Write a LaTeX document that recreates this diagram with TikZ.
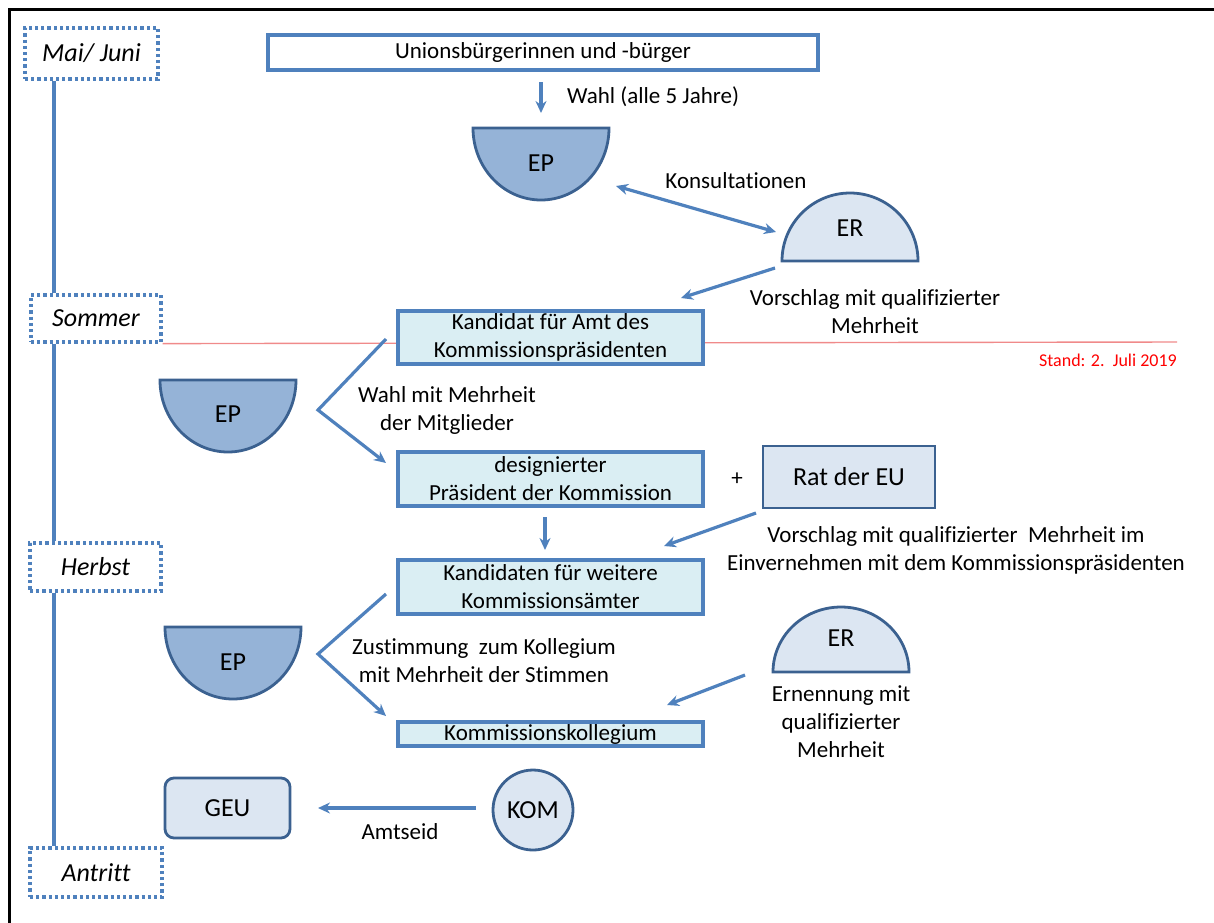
\documentclass[tikz,border=0pt]{standalone}
\usepackage{fontspec}
\setmainfont[Ligatures=NoCommon]{Carlito}
\usetikzlibrary{arrows.meta}
\definecolor{acc}{HTML}{4F81BD}
\definecolor{cyanfill}{HTML}{DAEEF3}
\definecolor{lightfill}{HTML}{DCE6F2}
\definecolor{epfill}{HTML}{95B3D7}
\definecolor{darkb}{HTML}{3B6190}
\definecolor{redline}{HTML}{F08A8A}
\newcommand\semidown[5]{\path[#1] ({#2-#4},#3) -- ({#2+#4},#3) .. controls ({#2+#4},{#3+0.5523*#5}) and ({#2+0.5523*#4},{#3+#5}) .. (#2,{#3+#5}) .. controls ({#2-0.5523*#4},{#3+#5}) and ({#2-#4},{#3+0.5523*#5}) .. ({#2-#4},#3) -- cycle;}
\newcommand\semiup[5]{\path[#1] ({#2-#4},#3) -- ({#2+#4},#3) .. controls ({#2+#4},{#3-0.5523*#5}) and ({#2+0.5523*#4},{#3-#5}) .. (#2,{#3-#5}) .. controls ({#2-0.5523*#4},{#3-#5}) and ({#2-#4},{#3-0.5523*#5}) .. ({#2-#4},#3) -- cycle;}
\tikzset{
  tlbox/.style={draw=acc, line width=3.2pt, dash pattern=on 3.2pt off 3pt, inner sep=0pt, font=\fontsize{26}{30}\selectfont\itshape},
  tlline/.style={draw=acc, line width=3.2pt},
  mainbox/.style={draw=acc, line width=3.4pt, fill=cyanfill, minimum width=305pt, inner sep=0pt, align=center},
  lightbox/.style={draw=darkb, line width=2.8pt, fill=lightfill, inner sep=0pt, align=center, font=\fontsize{26}{30}\selectfont},
  arr/.style={draw=acc, line width=3.2pt, -{Stealth[length=12pt,width=11pt]}},
  darr/.style={draw=acc, line width=3.2pt, {Stealth[length=12pt,width=11pt]}-{Stealth[length=12pt,width=11pt]}},
  wedge/.style={draw=acc, line width=3.2pt, -{Stealth[length=12pt,width=11pt]}},
  lbl/.style={align=center, inner sep=0pt},
  shlbl/.style={inner sep=0pt, font=\fontsize{26}{30}\selectfont},
  epshape/.style={fill=epfill, draw=darkb, line width=2.8pt},
  ershape/.style={fill=lightfill, draw=darkb, line width=2.8pt}
}
\begin{document}
\begin{tikzpicture}[x=1pt,y=-1pt, font=\fontsize{23}{28}\selectfont]
\useasboundingbox (0,0) rectangle (1214,922);
\clip (0,0) rectangle (1214,922);
% frame
\draw[black, line width=2.4pt] (9.5,940) -- (9.5,9.5) -- (1230,9.5);

% timeline
\node[tlbox, minimum width=133pt, minimum height=51pt] (mai) at (91.5,53.5) {Mai/ Juni};
\node[tlbox, minimum width=130pt, minimum height=47pt] (sommer) at (96,318.5) {Sommer};
\node[tlbox, minimum width=131pt, minimum height=48pt] (herbst) at (95.5,567) {Herbst};
\node[tlbox, minimum width=132pt, minimum height=49pt] (antritt) at (96,872.5) {Antritt};
\coordinate (tlx) at (54,0);
\draw[tlline] (mai.south -| tlx) -- (sommer.north -| tlx);
\draw[tlline] (sommer.south -| tlx) -- (herbst.north -| tlx);
\draw[tlline] (herbst.south -| tlx) -- (antritt.north -| tlx);

% red line
\coordinate (redend) at (1177,342);
\draw[redline, line width=1.4pt] (sommer.south east) -- (redend);
\node[anchor=east, text=red, font=\fontsize{18}{21}\selectfont, inner sep=0pt] (stand) at (1177,360) {Stand: 2.~~Juli 2019};

% top box
\node[draw=acc, line width=3.4pt, fill=white, minimum width=550pt, minimum height=35pt, inner sep=0pt] (buerger) at (543,52.5) {Unionsbürgerinnen und -bürger};
\coordinate (w0a) at (541,82);
\coordinate (w0b) at (541,113);
\draw[arr] (w0a) -- (w0b);
\node[lbl, anchor=west] (wahl) at (567,97) {Wahl (alle 5 Jahre)};

% EP1
\semidown{epshape}{541}{128}{68}{72}
\node[shlbl] (ep1) at (541,163) {EP};
% ER1
\semiup{ershape}{850}{261}{68}{68}
\node[shlbl] (er1) at (850,228) {ER};
\coordinate (k1) at (616,186);
\coordinate (k2) at (776,232);
\draw[darr] (k1) -- (k2);
\node[lbl] (kons) at (736,181) {Konsultationen};
\coordinate (v1a) at (775,268);
\coordinate (v1b) at (681,298);
\draw[arr] (v1a) -- (v1b);
\node[lbl] (vor1) at (875,312) {Vorschlag mit qualifizierter\\Mehrheit};

% Kandidat box
\node[mainbox, minimum height=53pt] (kand) at (550.5,337.5) {Kandidat für Amt des\\Kommissionspräsidenten};

% EP2
\semidown{epshape}{228}{380}{68}{72}
\node[shlbl] (ep2) at (228,414) {EP};
\coordinate (w1a) at (386,339);
\coordinate (w1v) at (318,410);
\coordinate (w1b) at (386,463);
\draw[wedge] (w1a) -- (w1v) -- (w1b);
\node[lbl] (wahl2) at (447,410) {Wahl mit Mehrheit\\der Mitglieder};

% designierter
\node[mainbox, minimum height=54pt] (desig) at (550.5,479) {designierter\\Präsident der Kommission};
\node[lbl] (plus) at (737,479) {+};
\node[lightbox, minimum width=172pt, minimum height=62pt] (rat) at (849,477) {Rat der EU};

\coordinate (d1) at (545,517);
\coordinate (d2) at (545,550);
\draw[arr] (d1) -- (d2);
\coordinate (r1) at (756,513);
\coordinate (r2) at (664,546);
\draw[arr] (r1) -- (r2);
\node[lbl] (vor2) at (956,550) {Vorschlag mit qualifizierter~~Mehrheit im\\Einvernehmen mit dem Kommissionspräsidenten};

% Kandidaten box
\node[mainbox, minimum height=54pt] (kandw) at (550.5,587) {Kandidaten für weitere\\Kommissionsämter};

% EP3
\semidown{epshape}{233}{627}{68}{72}
\node[shlbl] (ep3) at (233,662) {EP};
\coordinate (w2a) at (386,594);
\coordinate (w2v) at (318,654);
\coordinate (w2b) at (386,716);
\draw[wedge] (w2a) -- (w2v) -- (w2b);
\node[lbl] (zust) at (484,661) {Zustimmung~~zum Kollegium\\mit Mehrheit der Stimmen};

% Kollegium
\node[mainbox, minimum height=24pt] (koll) at (550.5,734) {Kommissionskollegium};

% ER2
\semiup{ershape}{841}{672}{68}{65}
\node[shlbl] (er2) at (841,638) {ER};
\coordinate (e1) at (745,675);
\coordinate (e2) at (667,705);
\draw[arr] (e1) -- (e2);
\node[lbl] (ern) at (841,722) {Ernennung mit\\qualifizierter\\Mehrheit};

% GEU / KOM
\node[lightbox, rounded corners=9pt, minimum width=125pt, minimum height=60pt] (geu) at (227.5,808) {GEU};
\node[lightbox, circle, minimum size=80pt] (kom) at (533,810) {KOM};
\coordinate (ks) at (476,808);
\coordinate (ke) at (318,808);
\draw[arr] (ks) -- (ke);
\node[lbl] (amt) at (400,832) {Amtseid};
\end{tikzpicture}
\end{document}
